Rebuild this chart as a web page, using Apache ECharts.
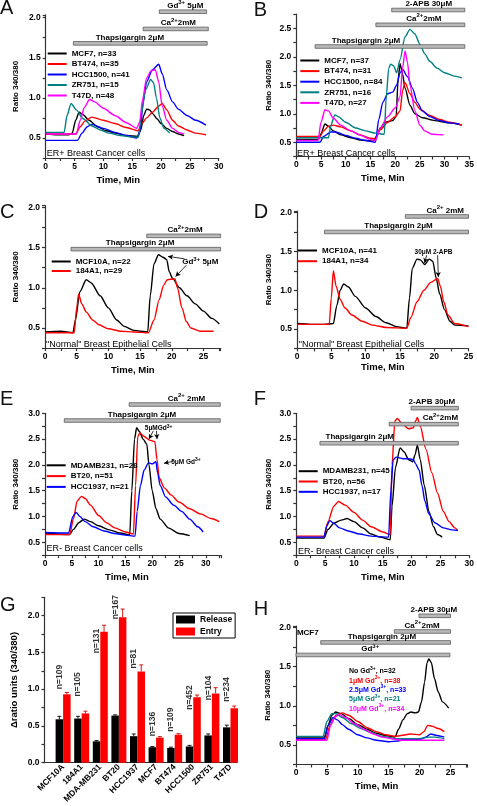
<!DOCTYPE html>
<html><head><meta charset="utf-8">
<script src="https://cdn.jsdelivr.net/npm/echarts@6/dist/echarts.min.js"></script>
<style>html,body{margin:0;padding:0;background:#fff}#c{width:477px;height:806px}</style>
</head><body><div id="c"></div>
<script>
const FA = "'Liberation Sans',Arial,Helvetica,sans-serif";

// ---------- Panel A (ER+) ----------
const A_names = ['MCF7, n=33','BT474, n=35','HCC1500, n=41','ZR751, n=15','T47D, n=48'];
const A_MCF7 = [[0,0.55],[2,0.54],[4,0.54],[4.6,0.56],[5.2,0.72],[5.8,0.82],[6.5,0.79],[7.5,0.72],[9,0.64],[10.5,0.59],[12,0.56],[14,0.53],[16,0.52],[16.5,0.6],[17,0.78],[17.5,0.86],[18,0.85],[18.6,0.8],[19.3,0.74],[20,0.68],[21,0.62],[22,0.58],[23,0.55],[24,0.53]];
const A_BT474 = [[0,0.55],[5.2,0.55],[6,0.64],[6.8,0.71],[8,0.76],[10,0.72],[12,0.68],[14,0.63],[16,0.59],[16.7,0.68],[17.5,0.75],[18.5,0.82],[19.5,0.89],[20.2,0.93],[21,0.85],[22,0.72],[23,0.65],[24.5,0.6],[26,0.56],[27.8,0.54]];
const A_HCC1500 = [[0,0.47],[5.5,0.47],[6.3,0.56],[7.2,0.64],[8,0.67],[10,0.62],[12,0.57],[14,0.53],[15.8,0.5],[16.4,0.6],[16.9,0.95],[17.5,1.2],[18.5,1.35],[19.6,1.42],[20.2,1.3],[21,1.1],[22,0.95],[23,0.86],[24.5,0.78],[26,0.72],[27.8,0.66]];
const A_ZR751 = [[0,0.57],[3.2,0.57],[3.7,0.78],[4.4,0.93],[5.3,0.85],[6.5,0.74],[8,0.65],[9.5,0.6],[11,0.56],[13,0.53],[15,0.51],[16.1,0.51],[16.6,0.8],[17.3,1.1],[18.2,1.23],[18.7,1.19],[19.2,1.0],[19.8,0.75],[20.5,0.62],[21.5,0.56]];
const A_T47D = [[0,0.55],[5.3,0.55],[6,0.72],[6.7,0.88],[7.6,0.98],[8.5,0.95],[10,0.87],[12,0.78],[14,0.69],[15.8,0.62],[16.3,0.7],[16.8,0.98],[17.5,1.25],[18.3,1.34],[19,1.35],[19.6,1.2],[20.2,0.9],[21,0.72],[22,0.62],[23,0.57],[24,0.55]];
const A_bars = [[4.8,28.0,1.68,14.6,'Thapsigargin 2μM'],[16.9,28.2,1.86,23.0,'Ca^2+^2mM'],[19.7,27.9,2.075,24.2,'Gd^3+^ 5μM']];

// ---------- Panel B (ER+, 2-APB) ----------
const B_names = ['MCF7, n=37','BT474, n=31','HCC1500, n=84','ZR751, n=16','T47D, n=27'];
const B_MCF7 = [[0,0.55],[4.5,0.55],[5,0.65],[5.8,0.82],[6.5,0.78],[7.5,0.7],[9,0.63],[11,0.58],[13,0.54],[15.5,0.52],[16.2,0.6],[17,0.75],[18,0.85],[19.5,0.88],[20.2,0.95],[20.6,1.6],[21,1.88],[21.5,1.7],[22,1.45],[23,1.15],[24,1.0],[25.5,0.93],[28,0.88],[31,0.84],[33.5,0.8]];
const B_BT474 = [[0,0.6],[4.8,0.6],[5.5,0.7],[6.5,0.78],[7.5,0.8],[9,0.77],[11,0.7],[13,0.63],[15,0.57],[16,0.56],[17,0.72],[18.5,0.85],[20,0.95],[21,1.05],[21.5,1.4],[22,1.55],[23,1.35],[24,1.2],[25,1.08],[27,0.97],[29,0.9],[31,0.85],[33.5,0.8]];
const B_HCC1500 = [[0,0.5],[4.8,0.5],[5.5,0.6],[7,0.68],[8,0.68],[10,0.62],[12,0.57],[14,0.53],[16,0.5],[16.7,0.9],[17.5,1.2],[18.5,1.35],[19.5,1.38],[20.3,1.5],[21,1.72],[21.5,1.78],[22.5,1.65],[23.5,1.45],[24.5,1.2],[25.5,1.05],[27,0.95],[29,0.88],[31,0.84],[33,0.82]];
const B_ZR751 = [[0,0.58],[6.5,0.58],[7,0.8],[7.8,0.98],[8.5,0.95],[10,0.85],[12,0.75],[14,0.7],[16,0.66],[17.8,0.64],[18.2,1.3],[18.7,1.8],[19.1,1.87],[19.7,1.84],[20.3,1.72],[21,1.95],[22,2.35],[23,2.48],[24,2.4],[25,2.22],[26,2.05],[27,1.92],[28.5,1.8],[30,1.72],[32,1.66],[33.5,1.63]];
const B_T47D = [[0,0.53],[4.4,0.53],[5,0.85],[5.8,1.07],[6.5,1.05],[7.5,0.92],[9,0.8],[11,0.7],[13,0.62],[15,0.55],[16,0.53],[17,0.75],[18.5,0.95],[20,1.1],[21,1.3],[21.5,1.8],[22,2.1],[22.5,1.9],[23,1.5],[24,1.05],[25,0.8],[26,0.7],[27.5,0.64],[29.8,0.63]];
const B_bars = [[3.8,34.1,2.18,14.1,'Thapsigargin 2μM'],[16.1,34.1,2.56,25.8,'Ca^2+^2mM'],[19.3,34.1,2.82,26.8,'2-APB 30μM']];

// ---------- Panel C (normal) ----------
const C_names = ['MCF10A, n=22','184A1, n=29'];
const C_MCF10A = [[0,0.45],[2.5,0.46],[4.4,0.44],[4.8,0.6],[5.5,0.95],[6.5,1.1],[7.3,1.06],[8.7,0.9],[10,0.75],[11.3,0.6],[12.5,0.52],[14,0.47],[16.2,0.45],[16.6,0.9],[17.2,1.3],[17.9,1.41],[18.6,1.38],[19.2,1.35],[19.6,1.2],[20.1,1.12],[21.2,1.0],[22.4,0.9],[23.7,0.8],[25,0.71],[26.3,0.62],[27.5,0.55]];
const C_184A1 = [[0,0.44],[4.6,0.44],[5,0.75],[5.3,0.92],[5.8,0.8],[6.5,0.7],[7.5,0.6],[8.5,0.54],[10,0.49],[12,0.46],[14,0.45],[16.3,0.44],[17.2,0.6],[18,0.85],[18.7,1.03],[19.3,1.1],[20.5,1.11],[20.9,1.0],[21.6,0.75],[22.3,0.58],[23,0.5],[24.5,0.46],[26.6,0.46]];
const C_bars = [[4.1,27.7,1.48,15.0,'Thapsigargin 2μM'],[16.05,27.7,1.645,22.1,'Ca^2+^2mM']];

// ---------- Panel D (normal, 2-APB) ----------
const D_names = ['MCF10A, n=41','184A1, n=34'];
const D_MCF10A = [[0,0.57],[2,0.56],[4,0.56],[5.3,0.57],[5.8,0.8],[6.3,1.0],[6.8,1.08],[7.5,1.04],[8.5,0.92],[10,0.77],[11.5,0.66],[13,0.58],[14.5,0.53],[16,0.51],[16.4,0.9],[16.8,1.28],[17.5,1.4],[18,1.39],[18.6,1.33],[19.3,1.4],[19.8,1.37],[20.3,1.15],[20.8,0.95],[21.5,0.75],[22.3,0.6],[23,0.55],[25,0.54]];
const D_184A1 = [[0,0.56],[4.7,0.56],[5,0.9],[5.3,1.25],[5.7,1.05],[6.3,0.88],[7,0.77],[8,0.68],[9.5,0.6],[11,0.55],[13,0.52],[16,0.51],[16.6,0.65],[17.5,0.85],[18.5,1.0],[19.5,1.1],[20.5,1.15],[20.9,1.05],[21.4,0.85],[22,0.68],[23,0.57],[25,0.53]];
const D_bars = [[4.0,25.0,1.75,14.8,'Thapsigargin 2μM'],[15.8,25.0,1.95,21.6,'Ca^2+^ 2mM']];

// ---------- Panel E (ER-) ----------
const E_names = ['MDAMB231, n=28','BT20, n=51','HCC1937, n=21'];
const E_MDAMB231 = [[0,0.68],[4.6,0.65],[5.3,0.75],[6.3,0.88],[7.3,0.95],[8.5,0.9],[10,0.82],[12,0.74],[14,0.68],[15.8,0.64],[16.2,1.5],[16.7,2.5],[17.1,2.72],[17.6,2.65],[18.3,2.5],[19,2.4],[19.4,2.0],[20,1.5],[20.7,1.15],[21.5,0.95],[23,0.78],[25,0.67],[27,0.63]];
const E_BT20 = [[0,0.65],[4.6,0.65],[5.3,0.95],[6,1.3],[6.8,1.39],[7.5,1.35],[8.5,1.22],[10,1.02],[11.5,0.88],[13,0.78],[15,0.7],[16.5,0.66],[16.9,1.6],[17.3,2.55],[17.7,2.62],[18.5,2.55],[19.5,2.48],[20.5,2.45],[20.9,2.1],[21.3,1.75],[22.3,1.55],[23.5,1.42],[25,1.28],[27,1.15],[29,1.05],[31,0.96],[32.5,0.9]];
const E_HCC1937 = [[0,0.69],[4.4,0.68],[5.2,1.0],[5.8,1.08],[6.5,1.0],[7.5,0.9],[9,0.8],[11,0.72],[13,0.67],[15,0.64],[16.8,0.62],[17.2,1.1],[17.8,1.6],[18.5,1.9],[19.3,2.04],[20,2.02],[20.7,2.06],[21,1.85],[21.5,1.6],[22.5,1.38],[24,1.22],[25.5,1.1],[27,0.95],[28.5,0.8],[29.5,0.7]];
const E_bars = [[3.6,32.7,2.86,18.1,'Thapsigargin 2μM'],[15.7,32.7,3.17,26.4,'Ca^2+^ 2mM']];

// ---------- Panel F (ER-, 2-APB) ----------
const F_names = ['MDAMB231, n=45','BT20, n=56','HCC1937, n=17'];
const F_MDAMB231 = [[0,0.58],[4.8,0.58],[5.5,0.75],[6.5,0.87],[7.8,0.93],[8.8,0.96],[10,0.9],[11.5,0.78],[13,0.66],[14.5,0.6],[16.3,0.55],[16.6,1.2],[17.2,1.95],[18,2.33],[18.7,2.25],[19.5,2.1],[20.2,2.06],[20.6,2.2],[21,2.38],[21.5,2.1],[22.2,1.6],[23,1.1],[23.8,0.8],[24.5,0.65],[25.3,0.6]];
const F_BT20 = [[0,0.62],[4.8,0.62],[5.5,0.9],[6.5,1.2],[7.3,1.29],[8.5,1.22],[10,1.08],[11.5,0.93],[13,0.8],[15,0.7],[16.3,0.65],[16.6,2.0],[17.1,2.85],[17.5,2.9],[18.5,2.78],[19.5,2.7],[20.3,2.72],[20.7,2.85],[21,2.92],[21.5,2.75],[22.5,2.3],[23.5,1.85],[24.5,1.45],[25.5,1.1],[26.5,0.9],[27.5,0.78],[28,0.73]];
const F_HCC1937 = [[0,0.6],[4.8,0.6],[5.3,0.82],[5.8,0.92],[6.5,0.87],[7.5,0.78],[9,0.72],[11,0.66],[13,0.62],[16,0.6],[16.4,1.5],[16.8,2.1],[17.3,2.15],[18.5,2.12],[19.5,2.12],[20.3,2.1],[20.7,2.02],[21.3,1.9],[21.8,1.6],[22.3,1.3],[23,1.05],[24,0.88],[25.5,0.78],[27,0.74],[28,0.73]];
const F_bars = [[4.1,28.1,2.42,11.0,'Thapsigargin 2μM'],[16.1,28.1,2.79,25.0,'Ca^2+^2mM'],[19.9,28.1,3.1,23.5,'2-APB 30μM']];

// ---------- Panel G (bar chart) ----------
const G_cells = ['MCF10A','184A1','MDA-MB231','BT20','HCC1937','MCF7','BT474','HCC1500','ZR751','T47D'];
const G_release = [0.59,0.60,0.29,0.64,0.36,0.21,0.20,0.22,0.37,0.48];
const G_releaseErr = [0.04,0.03,0.01,0.01,0.03,0.01,0.01,0.015,0.02,0.03];
const G_entry = [0.93,0.67,1.78,1.98,1.24,0.34,0.38,0.89,0.94,0.74];
const G_entryErr = [0.025,0.03,0.09,0.11,0.09,0.014,0.014,0.03,0.08,0.03];
const G_n = [109,105,131,167,81,136,109,452,104,234];
const G_nLabelY = [1.0,0.9,1.49,1.95,1.28,0.36,0.42,0.72,0.85,0.83];

// ---------- Panel H (MCF7 + Gd) ----------
const H_names = ['No Gd3+, n=32','1μM Gd3+, n=38','2.5μM Gd3+, n=33','5μM Gd3+, n=21','10μM Gd3+, n=34'];
const H_none = [[0,0.6],[4.6,0.6],[5.2,0.75],[5.8,0.88],[6.4,0.92],[7.3,0.9],[8.5,0.84],[10,0.76],[11.5,0.7],[13,0.65],[14.5,0.62],[16,0.6],[16.6,0.7],[17.3,0.82],[18,0.9],[18.6,0.92],[19.3,0.91],[19.8,0.92],[20.3,1.05],[20.8,1.3],[21.2,1.55],[21.5,1.6],[21.9,1.55],[22.4,1.35],[23,1.18],[23.7,1.05],[24.7,0.97]];
const H_1uM = [[0,0.57],[4.8,0.57],[5.5,0.75],[6.5,0.88],[7.5,0.91],[8.5,0.88],[10,0.8],[11.5,0.72],[13,0.67],[14.5,0.63],[16,0.61],[17,0.62],[18.5,0.64],[20,0.63],[20.7,0.67],[21.3,0.75],[22,0.74],[23,0.71],[24,0.67]];
const H_2_5uM = [[0,0.58],[4.6,0.58],[5.2,0.75],[6,0.85],[6.7,0.82],[7.5,0.76],[8.5,0.7],[10,0.63],[11.5,0.59],[13,0.56],[15,0.54],[16.5,0.55],[17.5,0.57],[20,0.57],[21,0.6],[21.8,0.64],[22.8,0.62],[24,0.6]];
const H_5uM = [[0,0.61],[4.4,0.61],[5,0.8],[5.8,0.9],[6.5,0.9],[7.5,0.85],[9,0.77],[10.5,0.71],[12,0.66],[14,0.61],[16,0.58],[17.5,0.58],[20,0.58],[21.5,0.6],[22.5,0.6],[24,0.58]];
const H_10uM = [[0,0.56],[5,0.56],[5.6,0.75],[6.3,0.86],[7,0.89],[8,0.85],[9.5,0.77],[11,0.7],[12.5,0.64],[14,0.6],[15.5,0.58],[17,0.56],[20,0.56],[22,0.56],[24,0.56]];
const H_bars = [[0,24.9,1.65,12.0,'Gd^3+^'],[4.0,25.0,1.81,13.9,'Thapsigargin 2μM'],[15.9,25.0,1.95,20.4,'Ca^2+^2mM'],[19.9,25.0,2.15,22.3,'2-APB 30μM']];

// annotation texts (data coords): [x, y, text, align, size, weight]
const A_notes = [[0.2,0.33,'ER+ Breast Cancer cells','left',9,'normal']];
const B_notes = [[0.15,0.335,'ER+ Breast Cancer cells','left',9,'normal']];
const C_notes = [[0.15,0.31,'"Normal" Breast Epithelial Cells','left',9,'normal'],[24.5,1.33,'Gd^3+^ 5μM','center',8,'bold']];
const D_notes = [[0.25,0.32,'"Normal" Breast Epithelial Cells','left',9,'normal'],[19.9,1.49,'30μM 2-APB','center',6.5,'bold']];
const E_notes = [[0.3,0.415,'ER- Breast Cancer cells','left',9,'normal'],[21.2,2.72,'5μMGd^3+^','center',6.5,'bold'],[26.3,2.07,'5μM Gd^3+^','center',6.5,'bold']];
const F_notes = [[0.3,0.35,'ER- Breast Cancer cells','left',9,'normal']];
const H_notes = [[0.15,1.94,'MCF7','left',8,'bold']];
// arrows: [[x1,y1],[x2,y2]]
const C_arrows = [[[22.0,1.36],[19.4,1.39]],[[22.3,1.28],[20.6,1.14]]];
const D_arrows = [[[18.9,1.45],[18.6,1.35]],[[20.5,1.45],[20.6,1.17]]];
const E_arrows = [[[20.2,2.66],[19.4,2.5]],[[20.8,2.66],[20.9,2.5]],[[23.9,2.07],[22.2,2.03]]];

const COL5 = ['#000000','#ff0000','#0000ff','#008080','#ff00ff'];
const COL3 = ['#000000','#ff0000','#0000ff'];

function toRich(t){ return t.split('^').map((p,i)=> p==='' ? '' : (i%2 ? '{s|'+p+'}' : '{n|'+p+'}')).join(''); }
function RICH(sz, wt){
  return {
    n:{fontSize:sz, fontFamily:FA, fontWeight:wt, lineHeight:Math.round(sz*1.3), verticalAlign:'bottom'},
    s:{fontSize:Math.max(5,Math.round(sz*0.72)), fontFamily:FA, fontWeight:wt, lineHeight:Math.round(sz*0.8), verticalAlign:'top'}
  };
}

const grids = [
  {left:45.7, top:14.9, width:173, height:143.1},
  {left:296.3, top:14, width:175, height:142.5},
  {left:45, top:205.7, width:175.6, height:142.4},
  {left:297, top:211, width:171.5, height:137.4},
  {left:45, top:413.3, width:175.8, height:141.9},
  {left:296.3, top:413.3, width:175, height:141.9},
  {left:44.5, top:597.3, width:192.5, height:165.4},
  {left:296, top:626, width:171.2, height:138.5}
];

const AX = {color:'#333', width:1.2};
function xAxisT(i, max, gap, shift){
  return {type:'value', gridIndex:i, min:0, max:max, interval:2.5,
    name:'Time, Min', nameLocation:'middle', nameGap:gap,
    nameTextStyle:{fontFamily:FA, fontWeight:'bold', fontSize:9.5, color:'#000', padding: shift ? [0, shift, 0, 0] : 0},
    axisLine:{onZero:false, lineStyle:AX}, axisTick:{length:3, lineStyle:AX},
    splitLine:{show:false},
    axisLabel:{margin:4, fontFamily:FA, fontWeight:'bold', fontSize:8.5, color:'#000',
      formatter:v => (Math.abs(v/5 - Math.round(v/5)) < 1e-6) ? String(Math.round(v)) : ''}};
}
function yAxisT(i, min, max, gap, name){
  return {type:'value', gridIndex:i, min:min, max:max, interval:0.25,
    name:name || 'Ratio 340/380', nameLocation:'middle', nameGap:gap,
    nameTextStyle:{fontFamily:FA, fontWeight:'bold', fontSize:8, color:'#000'},
    axisLine:{onZero:false, show:true, lineStyle:AX}, axisTick:{show:true, length:3, lineStyle:AX},
    splitLine:{show:false},
    axisLabel:{margin:5, fontFamily:FA, fontWeight:'bold', fontSize:8.5, color:'#000',
      formatter:v => (Math.abs(v/0.5 - Math.round(v/0.5)) < 1e-6) ? v.toFixed(1) : ''}};
}

function traces(i, names, datas, colors, arrows){
  return datas.map((d,k)=>{
    const s = {type:'line', name:names[k], xAxisIndex:i, yAxisIndex:i, data:d, symbol:'none',
      smooth:0.25, smoothMonotone:'x', lineStyle:{width:1.4, color:colors[k]}, itemStyle:{color:colors[k]}, z:3};
    if (k===0 && arrows) {
      s.markLine = {silent:true, symbol:['none','arrow'], symbolSize:[4,5], label:{show:false},
        lineStyle:{color:'#000', width:0.8, type:'solid'}, emphasis:{disabled:true},
        data: arrows.map(a=>[{coord:a[0]},{coord:a[1]}])};
    }
    return s;
  });
}
function treatSeries(i, bars){
  return {type:'custom', xAxisIndex:i, yAxisIndex:i, clip:false, silent:true, z:5,
    data: bars.map(b=>[b[0], b[2]]),
    renderItem:(p, api)=>{
      const b = bars[p.dataIndex];
      const s = api.coord([b[0], b[2]]), e = api.coord([b[1], b[2]]), l = api.coord([b[3], b[2]]);
      return {type:'group', children:[
        {type:'rect', shape:{x:s[0], y:s[1]-1.8, width:e[0]-s[0], height:3.6}, style:{fill:'#b9b9b9', stroke:'#5c5c5c', lineWidth:0.8}},
        {type:'text', x:l[0], y:s[1]-2.0, style:{text:toRich(b[4]), rich:RICH(8,'bold'), align:'center', verticalAlign:'bottom', fill:'#000'}}
      ]};
    }};
}
function noteSeries(i, notes){
  return {type:'custom', xAxisIndex:i, yAxisIndex:i, clip:false, silent:true, z:6,
    data: notes.map(n=>[n[0], n[1]]),
    renderItem:(p, api)=>{
      const n = notes[p.dataIndex];
      const c = api.coord([n[0], n[1]]);
      return {type:'text', x:c[0], y:c[1], style:{text:toRich(n[2]), rich:RICH(n[4], n[5]), align:n[3], verticalAlign:'middle', fill:'#000'}};
    }};
}
function legendT(names, left, top, gap){
  return {data:names, left:left, top:top, orient:'vertical', padding:0, itemGap:gap, itemWidth:19, itemHeight:2,
    icon:'rect', selectedMode:false, textStyle:{fontFamily:FA, fontWeight:'bold', fontSize:8, color:'#000'}};
}
function errSeries(vals, errs, dx, color){
  return {type:'custom', xAxisIndex:6, yAxisIndex:6, silent:true, z:4,
    data: vals.map((v,k)=>[k+1, v, v+errs[k]]),
    renderItem:(p, api)=>{
      const a = api.coord([api.value(0), api.value(1)]);
      const b = api.coord([api.value(0), api.value(2)]);
      const x = a[0] + dx;
      return {type:'group', children:[
        {type:'line', shape:{x1:x, y1:a[1], x2:x, y2:b[1]}, style:{stroke:color, lineWidth:0.9}},
        {type:'line', shape:{x1:x-2, y1:b[1], x2:x+2, y2:b[1]}, style:{stroke:color, lineWidth:0.9}}
      ]};
    }};
}

const xAxes = [
  xAxisT(0, 30, 17, 28), xAxisT(1, 35, 17), xAxisT(2, 27.7, 17), xAxisT(3, 25, 9),
  xAxisT(4, 32.8, 17, 12), xAxisT(5, 30, 17),
  {type:'value', gridIndex:6, min:0, max:10.35, interval:1,
    axisLine:{onZero:false, lineStyle:AX}, axisTick:{show:false}, splitLine:{show:false},
    axisLabel:{rotate:45, margin:3, fontFamily:FA, fontWeight:'bold', fontSize:8.5, color:'#000',
      formatter:v => (Number.isInteger(v) && v>=1 && v<=10) ? G_cells[v-1] : ''}},
  xAxisT(7, 27.7, 17, 10)
];
const yAxes = [
  yAxisT(0, 0.25, 2.035, 26), yAxisT(1, 0.25, 2.75, 24), yAxisT(2, 0.25, 2.02, 25.5), yAxisT(3, 0.25, 2.02, 24),
  yAxisT(4, 0.25, 3.0, 25.5), yAxisT(5, 0.25, 3.0, 24),
  Object.assign(yAxisT(6, 0, 2.25, 25, 'Δratio units (340/380)'), {nameTextStyle:{fontFamily:FA, fontWeight:'bold', fontSize:9.5, color:'#000'}}),
  yAxisT(7, 0.25, 2.02, 24)
];

const HCOL = ['#000000','#ff0000','#0000ff','#008080','#ff00ff'];

const series = [].concat(
  traces(0, A_names, [A_MCF7, A_BT474, A_HCC1500, A_ZR751, A_T47D], COL5),
  [treatSeries(0, A_bars), noteSeries(0, A_notes)],
  traces(1, B_names, [B_MCF7, B_BT474, B_HCC1500, B_ZR751, B_T47D], COL5),
  [treatSeries(1, B_bars), noteSeries(1, B_notes)],
  traces(2, C_names, [C_MCF10A, C_184A1], COL3, C_arrows),
  [treatSeries(2, C_bars), noteSeries(2, C_notes)],
  traces(3, D_names, [D_MCF10A, D_184A1], COL3, D_arrows),
  [treatSeries(3, D_bars), noteSeries(3, D_notes)],
  traces(4, E_names, [E_MDAMB231, E_BT20, E_HCC1937], COL3, E_arrows),
  [treatSeries(4, E_bars), noteSeries(4, E_notes)],
  traces(5, F_names, [F_MDAMB231, F_BT20, F_HCC1937], COL3),
  [treatSeries(5, F_bars), noteSeries(5, F_notes)],
  [
    {type:'bar', name:'Release', xAxisIndex:6, yAxisIndex:6, data:G_release.map((v,k)=>[k+1,v]), barWidth:7.5, barGap:'0%', itemStyle:{color:'#000000'}, z:2},
    {type:'bar', name:'Entry', xAxisIndex:6, yAxisIndex:6, data:G_entry.map((v,k)=>[k+1,v]), barWidth:7.5, barGap:'0%', itemStyle:{color:'#ff0000'}, z:2},
    errSeries(G_release, G_releaseErr, -3.75, '#000000'),
    errSeries(G_entry, G_entryErr, 3.75, '#cc0000'),
    {type:'scatter', xAxisIndex:6, yAxisIndex:6, silent:true, symbolSize:0, z:5,
      data:G_nLabelY.map((y,k)=>[k+0.8, y]),
      label:{show:true, position:'inside', rotate:90, align:'left', verticalAlign:'middle',
        fontFamily:FA, fontWeight:'bold', fontSize:8.5, color:'#000',
        formatter:p => 'n=' + G_n[p.dataIndex]}}
  ],
  traces(7, H_names, [H_none, H_1uM, H_2_5uM, H_5uM, H_10uM], HCOL),
  [treatSeries(7, H_bars), noteSeries(7, H_notes)]
);

const legends = [
  legendT(A_names, 47.7, 49.5, 2.5),
  legendT(B_names, 300.3, 56.5, 2.6),
  legendT(C_names, 51.7, 257.5, 1.5),
  legendT(D_names, 298, 246.5, 2.7),
  legendT(E_names, 46.7, 461.3, 2.8),
  legendT(F_names, 298.7, 467.2, 2.3),
  {data:['Release','Entry'], left:173, top:613, orient:'vertical', itemGap:3, itemWidth:19, itemHeight:8,
    icon:'rect', padding:[2,3,2,3], borderColor:'#000', borderWidth:1, selectedMode:false,
    textStyle:{fontFamily:FA, fontWeight:'bold', fontSize:8.5, color:'#000'}},
  {data:H_names.map((n,k)=>({name:n, textStyle:{color:HCOL[k]}})), left:343, top:666, orient:'vertical',
    itemGap:0.3, itemWidth:1, itemHeight:1, icon:'rect', itemStyle:{opacity:0}, padding:0, selectedMode:false,
    formatter:n => toRich(n.replace('3+','^3+^')),
    textStyle:{fontFamily:FA, fontWeight:'bold', fontSize:7, rich:RICH(7,'bold')}}
];

const letters = [['A',0,-1.5],['B',253.7,0],['C',0,202],['D',253.7,202],['E',0,389],['F',253.7,389],['G',0,595.5],['H',253.7,599]];
const graphic = letters.map(l=>({type:'text', left:l[1], top:l[2], silent:true,
  style:{text:l[0], font:'normal 20px ' + FA, fill:'#111'}}));

const chart = echarts.init(document.getElementById('c'), null, {renderer:'canvas'});
chart.setOption({
  animation:false, backgroundColor:'#ffffff',
  grid:grids, xAxis:xAxes, yAxis:yAxes, legend:legends, series:series, graphic:graphic
});
</script></body></html>
